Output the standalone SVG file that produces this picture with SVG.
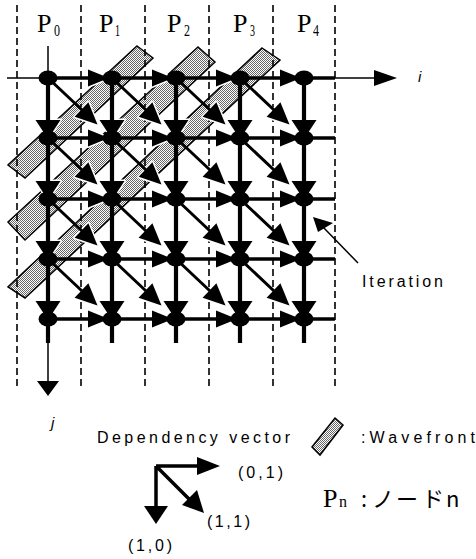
<svg xmlns="http://www.w3.org/2000/svg" xmlns:xlink="http://www.w3.org/1999/xlink" width="476" height="559" viewBox="0 0 476 559">
<style>
.dash{stroke:#000;stroke-width:1.6;stroke-dasharray:7 4;fill:none}
.thin{stroke:#000;stroke-width:1.5;fill:none}
.vl{stroke:#000;stroke-width:4.2;fill:none}
.hl{stroke:#000;stroke-width:3.3;fill:none}
.dl{stroke:#000;stroke-width:3;fill:none}
.bar{fill:url(#dots);stroke:#000;stroke-width:1.5;stroke-linejoin:miter}
.node{fill:#000}
.halo{fill:#fff;stroke:#fff;stroke-width:3;stroke-linejoin:round}
.head{fill:#000;stroke:none}
.p{font-family:"Liberation Serif","Times New Roman",serif;font-size:26px;fill:#000}
.ps{font-family:"Liberation Serif","Times New Roman",serif;font-size:16px;fill:#000}
.lbl{font-family:"Liberation Sans",Arial,sans-serif;font-size:16px;fill:#000}
.ax{font-family:"Liberation Sans",Arial,sans-serif;font-size:15px;font-style:italic;fill:#000}
.jp{font-family:"Noto Sans CJK JP","Noto Sans",sans-serif;font-size:22px;fill:#000}
</style>
<defs>
<pattern id="dots" width="2" height="2" patternUnits="userSpaceOnUse">
<rect width="2" height="2" fill="#fff"/>
<rect width="1" height="1" fill="#666"/>
<rect x="1" y="1" width="1" height="1" fill="#666"/>
</pattern>
<polygon id="hh" points="-3,0 -24,-8.5 -24,8.5"/>
<polygon id="vh" points="0,1 -12.5,-18 12.5,-18"/>
<polygon id="dh" points="49.5,46.6 26.6,38.8 40.4,24.2"/>
<g id="heads">
<use xlink:href="#hh" x="112" y="78"/><use xlink:href="#hh" x="176" y="78"/><use xlink:href="#hh" x="240" y="78"/><use xlink:href="#hh" x="304" y="78"/>
<use xlink:href="#hh" x="112" y="138"/><use xlink:href="#hh" x="176" y="138"/><use xlink:href="#hh" x="240" y="138"/><use xlink:href="#hh" x="304" y="138"/>
<use xlink:href="#hh" x="112" y="199"/><use xlink:href="#hh" x="176" y="199"/><use xlink:href="#hh" x="240" y="199"/><use xlink:href="#hh" x="304" y="199"/>
<use xlink:href="#hh" x="112" y="259"/><use xlink:href="#hh" x="176" y="259"/><use xlink:href="#hh" x="240" y="259"/><use xlink:href="#hh" x="304" y="259"/>
<use xlink:href="#hh" x="112" y="319"/><use xlink:href="#hh" x="176" y="319"/><use xlink:href="#hh" x="240" y="319"/><use xlink:href="#hh" x="304" y="319"/>
<use xlink:href="#vh" x="48" y="138"/><use xlink:href="#vh" x="112" y="138"/><use xlink:href="#vh" x="176" y="138"/><use xlink:href="#vh" x="240" y="138"/><use xlink:href="#vh" x="304" y="138"/>
<use xlink:href="#vh" x="48" y="199"/><use xlink:href="#vh" x="112" y="199"/><use xlink:href="#vh" x="176" y="199"/><use xlink:href="#vh" x="240" y="199"/><use xlink:href="#vh" x="304" y="199"/>
<use xlink:href="#vh" x="48" y="259"/><use xlink:href="#vh" x="112" y="259"/><use xlink:href="#vh" x="176" y="259"/><use xlink:href="#vh" x="240" y="259"/><use xlink:href="#vh" x="304" y="259"/>
<use xlink:href="#vh" x="48" y="319"/><use xlink:href="#vh" x="112" y="319"/><use xlink:href="#vh" x="176" y="319"/><use xlink:href="#vh" x="240" y="319"/><use xlink:href="#vh" x="304" y="319"/>
<use xlink:href="#dh" x="48" y="78"/><use xlink:href="#dh" x="112" y="78"/><use xlink:href="#dh" x="176" y="78"/><use xlink:href="#dh" x="240" y="78"/>
<use xlink:href="#dh" x="48" y="138"/><use xlink:href="#dh" x="112" y="138"/><use xlink:href="#dh" x="176" y="138"/><use xlink:href="#dh" x="240" y="138"/>
<use xlink:href="#dh" x="48" y="199"/><use xlink:href="#dh" x="112" y="199"/><use xlink:href="#dh" x="176" y="199"/><use xlink:href="#dh" x="240" y="199"/>
<use xlink:href="#dh" x="48" y="259"/><use xlink:href="#dh" x="112" y="259"/><use xlink:href="#dh" x="176" y="259"/><use xlink:href="#dh" x="240" y="259"/>
</g>
</defs>
<rect width="476" height="559" fill="#fff"/>

<g id="wavefronts">
<polygon class="bar" points="137,46 153,58 25,178 8,165"/>
<polygon class="bar" points="198,47 215,62 25,240 8,222"/>
<polygon class="bar" points="262,48 280,60 25,298 8,287"/>
</g>

<g id="partitions">
<line class="dash" x1="17" y1="5" x2="17" y2="390"/>
<line class="dash" x1="81" y1="5" x2="81" y2="390"/>
<line class="dash" x1="145" y1="5" x2="145" y2="390"/>
<line class="dash" x1="209" y1="5" x2="209" y2="390"/>
<line class="dash" x1="273" y1="5" x2="273" y2="390"/>
<line class="dash" x1="335" y1="5" x2="335" y2="390"/>
</g>

<g id="connectors">
<use xlink:href="#heads" class="halo"/>
<line class="thin" x1="7" y1="78" x2="48" y2="78"/>
<line class="thin" x1="335" y1="78" x2="378" y2="78"/>
<polygon points="374,70 397,78 374,86" fill="#000"/>
<line class="thin" x1="48" y1="46" x2="48" y2="78"/>
<line class="thin" x1="48" y1="343" x2="48" y2="383"/>
<polygon points="37,381 59,381 48,396" fill="#000"/>
<line class="vl" x1="48" y1="78" x2="48" y2="343"/>
<line class="vl" x1="112" y1="78" x2="112" y2="343"/>
<line class="vl" x1="176" y1="78" x2="176" y2="343"/>
<line class="vl" x1="240" y1="78" x2="240" y2="343"/>
<line class="vl" x1="304" y1="78" x2="304" y2="343"/>
<line class="hl" x1="48" y1="78" x2="335" y2="78" stroke-width="4.5"/>
<line class="hl" x1="48" y1="138" x2="335" y2="138"/>
<line class="hl" x1="48" y1="199" x2="335" y2="199"/>
<line class="hl" x1="48" y1="259" x2="335" y2="259"/>
<line class="hl" x1="48" y1="319" x2="335" y2="319"/>
<path class="dl" d="M48,78l42,39.5M112,78l42,39.5M176,78l42,39.5M240,78l42,39.5M48,138l42,39.5M112,138l42,39.5M176,138l42,39.5M240,138l42,39.5M48,199l42,39.5M112,199l42,39.5M176,199l42,39.5M240,199l42,39.5M48,259l42,39.5M112,259l42,39.5M176,259l42,39.5M240,259l42,39.5"/>
<use xlink:href="#heads" class="head"/>
<line class="thin" x1="358" y1="263" x2="322" y2="226" stroke-width="1.8"/>
<polygon points="313,217 333,223 318,232" fill="#000"/>
</g>

<g id="nodes">
<g id="row0"><ellipse class="node" cx="48" cy="78" rx="9.5" ry="7.5"/><ellipse class="node" cx="112" cy="78" rx="9.5" ry="7.5"/><ellipse class="node" cx="176" cy="78" rx="9.5" ry="7.5"/><ellipse class="node" cx="240" cy="78" rx="9.5" ry="7.5"/><ellipse class="node" cx="304" cy="78" rx="9.5" ry="7.5"/></g>
<g id="row1"><ellipse class="node" cx="48" cy="138" rx="9.5" ry="7.5"/><ellipse class="node" cx="112" cy="138" rx="9.5" ry="7.5"/><ellipse class="node" cx="176" cy="138" rx="9.5" ry="7.5"/><ellipse class="node" cx="240" cy="138" rx="9.5" ry="7.5"/><ellipse class="node" cx="304" cy="138" rx="9.5" ry="7.5"/></g>
<g id="row2"><ellipse class="node" cx="48" cy="199" rx="9.5" ry="7.5"/><ellipse class="node" cx="112" cy="199" rx="9.5" ry="7.5"/><ellipse class="node" cx="176" cy="199" rx="9.5" ry="7.5"/><ellipse class="node" cx="240" cy="199" rx="9.5" ry="7.5"/><ellipse class="node" cx="304" cy="199" rx="9.5" ry="7.5"/></g>
<g id="row3"><ellipse class="node" cx="48" cy="259" rx="9.5" ry="7.5"/><ellipse class="node" cx="112" cy="259" rx="9.5" ry="7.5"/><ellipse class="node" cx="176" cy="259" rx="9.5" ry="7.5"/><ellipse class="node" cx="240" cy="259" rx="9.5" ry="7.5"/><ellipse class="node" cx="304" cy="259" rx="9.5" ry="7.5"/></g>
<g id="row4"><ellipse class="node" cx="48" cy="319" rx="9.5" ry="7.5"/><ellipse class="node" cx="112" cy="319" rx="9.5" ry="7.5"/><ellipse class="node" cx="176" cy="319" rx="9.5" ry="7.5"/><ellipse class="node" cx="240" cy="319" rx="9.5" ry="7.5"/><ellipse class="node" cx="304" cy="319" rx="9.5" ry="7.5"/></g>
</g>

<g id="labels">
<text class="p" x="37" y="32">P</text><text class="ps" x="54" y="36" textLength="6" lengthAdjust="spacingAndGlyphs">0</text>
<text class="p" x="99" y="32">P</text><text class="ps" x="115" y="36" textLength="5" lengthAdjust="spacingAndGlyphs">1</text>
<text class="p" x="167" y="32">P</text><text class="ps" x="184" y="36" textLength="6" lengthAdjust="spacingAndGlyphs">2</text>
<text class="p" x="233" y="32">P</text><text class="ps" x="250" y="36" textLength="5" lengthAdjust="spacingAndGlyphs">3</text>
<text class="p" x="297" y="32">P</text><text class="ps" x="313" y="36" textLength="6" lengthAdjust="spacingAndGlyphs">4</text>
<text class="ax" x="418" y="82">i</text>
<text class="ax" x="51" y="428">j</text>
<text class="lbl" x="362" y="287" textLength="81" lengthAdjust="spacing">Iteration</text>
</g>

<g id="legend">
<text class="lbl" x="97" y="443" textLength="193" lengthAdjust="spacing">Dependency vector</text>
<polygon class="bar" points="335,418 343,425 320,455 312,447"/>
<text class="lbl" x="361" y="443" textLength="114" lengthAdjust="spacing">:Wavefront</text>
<path d="M156,466H199M156,466V509M156,466L192,502" stroke="#000" stroke-width="3.5" fill="none"/>
<polygon points="197,457 220,466 197,475" fill="#000"/>
<polygon points="144,506 168,506 156,524" fill="#000"/>
<polygon points="204,513 182,505 197,490" fill="#000"/>
<text class="lbl" x="238" y="478" font-size="15" textLength="45" lengthAdjust="spacing">(0,1)</text>
<text class="lbl" x="207" y="527" font-size="15" textLength="43" lengthAdjust="spacing">(1,1)</text>
<text class="lbl" x="128" y="551" font-size="15" textLength="44" lengthAdjust="spacing">(1,0)</text>
<text class="p" x="323" y="507" font-size="22">P</text><text class="ps" x="339" y="507" font-size="10">n</text>
<text class="jp" y="507"><tspan x="361">:</tspan><tspan x="372">ノ</tspan><tspan x="396">ー</tspan><tspan x="422">ド</tspan><tspan x="446">n</tspan></text>
</g>
</svg>
